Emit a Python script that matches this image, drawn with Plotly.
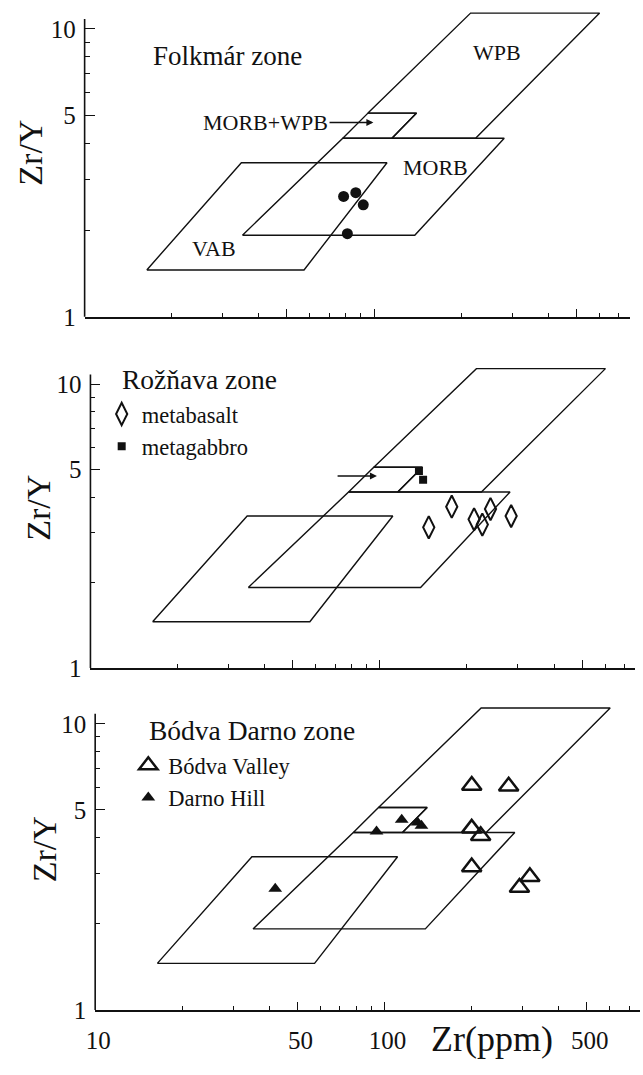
import numpy as np
import plotly.graph_objects as go

# ---- discrimination fields (Zr ppm vs Zr/Y) ----
wpb_zr = [95.3, 215.6, 602, 224.4, 115.3, 140.3, 95.3]
wpb_zry = [5.1, 11.35, 11.35, 4.17, 4.17, 5.1, 5.1]
mw_zr = [78, 95.3, 140.3, 115.3, 78]
mw_zry = [4.17, 5.1, 5.1, 4.17, 4.17]
morb_zr = [35.1, 78, 281.8, 138.3, 35.1]
morb_zry = [1.92, 4.17, 4.17, 1.92, 1.92]
vab_zr = [16.4, 34.8, 110.9, 57.3, 16.4]
vab_zry = [1.455, 3.43, 3.43, 1.455, 1.455]

# ---- samples ----
folkmar_zr = [78.5, 86.5, 91.8, 80.9]
folkmar_zry = [2.62, 2.70, 2.45, 1.945]

metabasalt_zr = [147.6, 177.2, 211.7, 226, 241.2, 284.3]
metabasalt_zry = [3.13, 3.70, 3.34, 3.20, 3.63, 3.43]
metagabbro_zr = [136.5, 141.1]
metagabbro_zry = [4.94, 4.61]

bodva_zr = [200.1, 268.4, 200, 214.8, 200, 317.7, 292.5]
bodva_zry = [6.08, 6.05, 4.31, 4.06, 3.16, 2.92, 2.68]
darno_zr = [41.9, 93.8, 114.6, 130, 134.1]
darno_zry = [2.65, 4.20, 4.62, 4.52, 4.40]

# ---- ticks ----
x_tickvals = [10, 50, 100, 500]
x_ticktext = ["10", "50", "100", "500"]
x_minor = [20, 30, 40, 60, 70, 80, 90, 200, 300, 400, 600, 700]
y_tickvals = [1, 5, 10]
y_ticktext = ["1", "5", "10"]
y_minor = [2, 3, 4, 6, 7, 8, 9]

FONT = "Liberation Serif, Times New Roman, serif"
INK = "#111111"
W, H = 643, 1075

fig = go.Figure()

# panel geometry (pixels)
panels = [
    dict(left=76.7, bottom=321.0, dec=291.7),
    dict(left=82.6, bottom=676.7, dec=287.4),
    dict(left=87.4, bottom=1023.3, dec=290.0),
]
XDEC = 293.5
XR = [1.0, 2.883]
YR = [0.0, 1.08]

fields = [(wpb_zr, wpb_zry), (mw_zr, mw_zry), (morb_zr, morb_zry), (vab_zr, vab_zry)]

shapes = []
for i, p in enumerate(panels):
    s = "" if i == 0 else str(i + 1)
    x0 = p["left"] / W
    x1 = min(1.0, (p["left"] + (XR[1] - XR[0]) * XDEC) / W)
    y0 = (H - p["bottom"]) / H
    y1 = (H - (p["bottom"] - YR[1] * p["dec"])) / H
    fig.layout["xaxis" + s] = dict(
        type="log", range=XR, domain=[x0, x1], anchor="y" + s,
        showline=True, linecolor=INK, linewidth=1.6,
        ticks="inside", ticklen=8, tickwidth=1.4, tickcolor=INK,
        tickmode="array", tickvals=x_tickvals, ticktext=x_ticktext,
        showticklabels=(i == 2), ticklabelstandoff=7, ticklabelshift=3,
        minor=dict(tickmode="array", tickvals=x_minor, ticks="inside",
                   ticklen=4, tickwidth=1.1, tickcolor=INK, showgrid=False),
        showgrid=False, zeroline=False,
        tickfont=dict(family=FONT, size=25, color=INK),
    )
    fig.layout["yaxis" + s] = dict(
        type="log", range=YR, domain=[y0, y1], anchor="x" + s,
        showline=False,
        ticks="inside", ticklen=10, tickwidth=1.4, tickcolor=INK,
        tickmode="array", tickvals=y_tickvals, ticktext=y_ticktext,
        ticklabelstandoff=8,
        minor=dict(tickmode="array", tickvals=y_minor, ticks="inside",
                   ticklen=5, tickwidth=1.1, tickcolor=INK, showgrid=False),
        showgrid=False, zeroline=False,
        tickfont=dict(family=FONT, size=25, color=INK),
    )
    # y axis line ending just above 10
    shapes.append(dict(type="line", xref="x" + s + " domain", yref="y" + s + " domain",
                       x0=0, x1=0, y0=0, y1=0.958, line=dict(color=INK, width=1.6)))
    for fx, fy in fields:
        fig.add_trace(go.Scatter(x=fx, y=fy, mode="lines", xaxis="x" + s, yaxis="y" + s,
                                 line=dict(color=INK, width=1.4), showlegend=False,
                                 hoverinfo="skip"))

# panel 1 samples
fig.add_trace(go.Scatter(x=folkmar_zr, y=folkmar_zry, mode="markers", xaxis="x", yaxis="y",
                         marker=dict(symbol="circle", size=11, color=INK),
                         showlegend=False, name="Folkmár zone"))
# panel 2 samples
fig.add_trace(go.Scatter(x=metabasalt_zr, y=metabasalt_zry, mode="markers", xaxis="x2", yaxis="y2",
                         marker=dict(symbol="diamond-tall-open", size=16, color=INK,
                                     line=dict(width=2, color=INK)),
                         name="metabasalt", legend="legend2"))
fig.add_trace(go.Scatter(x=metagabbro_zr, y=metagabbro_zry, mode="markers", xaxis="x2", yaxis="y2",
                         marker=dict(symbol="square", size=8, color=INK),
                         name="metagabbro", legend="legend2"))
# panel 3 samples
fig.add_trace(go.Scatter(x=bodva_zr, y=bodva_zry, mode="markers", xaxis="x3", yaxis="y3",
                         marker=dict(symbol="triangle-up-open", size=17, color=INK,
                                     line=dict(width=2.5, color=INK)),
                         name="Bódva Valley", legend="legend3"))
fig.add_trace(go.Scatter(x=darno_zr, y=darno_zry, mode="markers", xaxis="x3", yaxis="y3",
                         marker=dict(symbol="triangle-up", size=12, color=INK),
                         name="Darno Hill", legend="legend3"))

L = np.log10


def ptxt(text, px, py, size, angle=0, xa="center"):
    return dict(text=text, xref="paper", yref="paper", x=px / W, y=(H - py) / H,
                xanchor=xa, yanchor="middle", textangle=angle, showarrow=False,
                font=dict(family=FONT, size=size, color=INK))


annotations = [
    dict(text="Folkmár zone", xref="x", yref="y", x=L(16.9), y=L(8.05), xanchor="left",
         yanchor="middle", showarrow=False, font=dict(family=FONT, size=27, color=INK)),
    dict(text="WPB", xref="x", yref="y", x=L(265), y=L(8.3), xanchor="center", yanchor="middle",
         showarrow=False, font=dict(family=FONT, size=22, color=INK)),
    dict(text="MORB", xref="x", yref="y", x=L(163), y=L(3.31), xanchor="center", yanchor="middle",
         showarrow=False, font=dict(family=FONT, size=22, color=INK)),
    dict(text="VAB", xref="x", yref="y", x=L(27.9), y=L(1.73), xanchor="center", yanchor="middle",
         showarrow=False, font=dict(family=FONT, size=22, color=INK)),
    dict(text="MORB+WPB", xref="x", yref="y", x=L(99.5), y=L(4.73), axref="x", ayref="y",
         ax=L(70.2), ay=L(4.73), xanchor="right", showarrow=True, arrowhead=2,
         arrowsize=1, arrowwidth=1.4, arrowcolor=INK, standoff=0,
         font=dict(family=FONT, size=22, color=INK)),
    dict(text="", xref="x2", yref="y2", x=L(97.7), y=L(4.75), axref="x2", ayref="y2",
         ax=L(70.6), ay=L(4.75), showarrow=True, arrowhead=2, arrowsize=1,
         arrowwidth=1.4, arrowcolor=INK, standoff=0),
    ptxt("Rožňava zone", 112.7, 385, 27.5, xa="left"),
    ptxt("Bódva Darno zone", 139.9, 740, 27.5, xa="left"),
    ptxt("Zr/Y", 22, 155, 34, angle=-90),
    ptxt("Zr/Y", 30, 515, 34, angle=-90),
    ptxt("Zr/Y", 36, 860, 34, angle=-90),
    ptxt("Zr(ppm)", 490, 1053, 36),
]

fig.update_layout(
    width=W, height=H, margin=dict(l=0, r=0, t=0, b=0),
    paper_bgcolor="white", plot_bgcolor="white",
    shapes=shapes, annotations=annotations,
    font=dict(family=FONT, color=INK),
    legend2=dict(x=94 / W, y=(H - 398) / H, xanchor="left", yanchor="top",
                 font=dict(family=FONT, size=22.5, color=INK), bgcolor="rgba(0,0,0,0)",
                 tracegroupgap=0, itemwidth=30),
    legend3=dict(x=121 / W, y=(H - 754) / H, xanchor="left", yanchor="top",
                 font=dict(family=FONT, size=22.5, color=INK), bgcolor="rgba(0,0,0,0)",
                 tracegroupgap=0, itemwidth=30),
)

fig.write_html("out.html")
